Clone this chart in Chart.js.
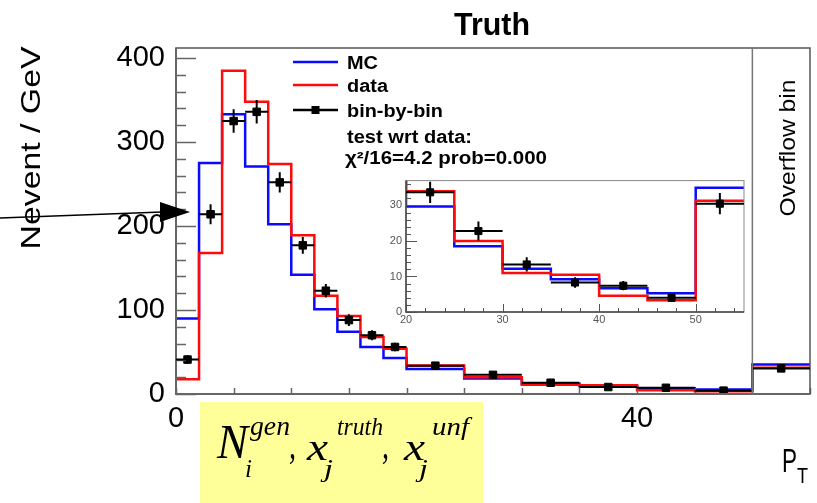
<!DOCTYPE html>
<html>
<head>
<meta charset="utf-8">
<script src="https://cdn.jsdelivr.net/npm/chart.js@4.4.1/dist/chart.umd.min.js"></script>
<style>
  html, body { margin: 0; padding: 0; background: #fff; }
  #wrap { position: relative; width: 817px; height: 503px; overflow: hidden; }
  #main { position: absolute; left: 0; top: 0; }
  #inset { position: absolute; left: 380px; top: 170px; }
</style>
</head>
<body>
<div id="wrap">
  <canvas id="main" width="817" height="503"></canvas>
  <canvas id="inset" width="370" height="160"></canvas>
</div>
<script>
// bin edges in GeV: 2 GeV bins up to 20, 5 GeV bins up to 50, last bin (50-55) is the overflow
const binEdges   = [0, 2, 4, 6, 8, 10, 12, 14, 16, 18, 20, 25, 30, 35, 40, 45, 50, 55];
const mcValues   = [90, 275, 333, 271, 202, 142, 101, 74, 56, 43, 29.7, 18.5, 12.2, 9.2, 6.7, 5.3, 35];
const dataValues = [17.5, 168, 385, 348, 274, 189, 117, 93, 68, 54, 34, 20, 11, 10.5, 4.6, 3.3, 31.3];
const unfValues  = [41, 214, 325, 336, 252, 177, 123, 88, 70, 56, 33.7, 22.8, 13.4, 8.3, 7.4, 4.0, 30.5];
const unfErrors  = [5, 12, 14, 14, 12, 10, 8, 7, 6, 5, 3, 2.7, 2, 1.5, 1.3, 1.1, 3];

const mainXTicks  = [0, 20, 40];
const mainYTicks  = [0, 100, 200, 300, 400];
const insetXTicks = [20, 30, 40, 50];
const insetYTicks = [0, 10, 20, 30];

const BLUE = '#0a0aff';
const RED = '#ff0a0a';
const SANS = '"Liberation Sans", Arial, sans-serif';
const SERIF = '"Liberation Serif", "Times New Roman", serif';

// histogram outline: each value is held until the next edge
function stepPoints(values) {
  const pts = values.map((v, i) => ({ x: binEdges[i], y: v }));
  pts.push({ x: binEdges[binEdges.length - 1], y: values[values.length - 1] });
  return pts;
}
const binCenters = binEdges.slice(0, -1).map((e, i) => (e + binEdges[i + 1]) / 2);
const unfPoints = unfValues.map((v, i) => ({ x: binCenters[i], y: v }));

// draw text squeezed/stretched to a target width
function fitText(ctx, text, x, y, font, width, align) {
  ctx.save();
  ctx.font = font;
  ctx.textBaseline = 'alphabetic';
  ctx.textAlign = 'left';
  const w = ctx.measureText(text).width;
  const s = width ? width / w : 1;
  ctx.translate(x, y);
  ctx.scale(s, 1);
  ctx.fillText(text, align === 'center' ? -w / 2 : 0, 0);
  ctx.restore();
}

function rotText(ctx, text, x, y, font, width) {
  ctx.save();
  ctx.translate(x, y);
  ctx.rotate(-Math.PI / 2);
  fitText(ctx, text, 0, 0, font, width, 'center');
  ctx.restore();
}

// x and y error bars of the unfolded points
const errorBars = {
  id: 'errorBars',
  afterDatasetsDraw(chart) {
    const { ctx, chartArea: a, scales: { x, y } } = chart;
    ctx.save();
    ctx.beginPath();
    ctx.rect(a.left, a.top, a.right - a.left, a.bottom - a.top);
    ctx.clip();
    ctx.strokeStyle = '#000';
    ctx.lineWidth = 2;
    ctx.beginPath();
    unfValues.forEach((v, i) => {
      const yc = y.getPixelForValue(v);
      const xc = x.getPixelForValue(binCenters[i]);
      ctx.moveTo(x.getPixelForValue(binEdges[i]), yc);
      ctx.lineTo(x.getPixelForValue(binEdges[i + 1]), yc);
      ctx.moveTo(xc, y.getPixelForValue(v - unfErrors[i]));
      ctx.lineTo(xc, y.getPixelForValue(v + unfErrors[i]));
    });
    ctx.stroke();
    ctx.restore();
  }
};

// ROOT style frame with inward tick marks
const rootFrame = {
  id: 'rootFrame',
  afterDatasetsDraw(chart, args, o) {
    const { ctx, chartArea: a, scales: { x, y } } = chart;
    const isMajor = (v, step) => Math.abs(v / step - Math.round(v / step)) < 1e-6;
    ctx.save();
    ctx.strokeStyle = o.tickColor;
    ctx.lineWidth = o.tickWidth;
    ctx.beginPath();
    for (let v = y.min; v <= y.max + 1e-9; v += o.yMinor) {
      const p = Math.round(y.getPixelForValue(v)) + 0.5;
      ctx.moveTo(a.left, p);
      ctx.lineTo(a.left + (isMajor(v, o.yMajor) ? o.yMajorLen : o.yMinorLen), p);
    }
    for (let v = x.min; v <= x.max + 1e-9; v += o.xMinor) {
      const p = Math.round(x.getPixelForValue(v)) + 0.5;
      ctx.moveTo(p, a.bottom);
      ctx.lineTo(p, a.bottom - (isMajor(v, o.xMajor) ? o.xMajorLen : o.xMinorLen));
    }
    ctx.stroke();
    ctx.strokeStyle = o.frameColor;
    ctx.lineWidth = o.frameWidth;
    ctx.strokeRect(a.left, a.top, a.right - a.left, a.bottom - a.top);
    ctx.strokeStyle = o.axisColor;
    ctx.lineWidth = o.axisWidth;
    ctx.beginPath();
    ctx.moveTo(a.left, a.top);
    ctx.lineTo(a.left, a.bottom);
    ctx.lineTo(a.right, a.bottom);
    ctx.stroke();
    ctx.restore();
  }
};

// texts, legend, overflow marker, arrow and the yellow label box
const decorations = {
  id: 'decorations',
  afterDraw(chart) {
    const { ctx, chartArea: a, scales: { x } } = chart;
    ctx.save();
    ctx.fillStyle = '#000';

    // overflow separator
    const xo = x.getPixelForValue(binEdges[binEdges.length - 2]);
    ctx.strokeStyle = '#777';
    ctx.lineWidth = 1.5;
    ctx.beginPath();
    ctx.moveTo(xo, a.top);
    ctx.lineTo(xo, a.bottom);
    ctx.stroke();
    rotText(ctx, 'Overflow bin', 795, 148, '22px ' + SANS, 137);

    // title and axis titles
    fitText(ctx, 'Truth', 492, 35, 'bold 31px ' + SANS, 76, 'center');
    rotText(ctx, 'Nevent / GeV', 40, 148, '28px ' + SANS, 203);
    fitText(ctx, 'P', 782, 472, '33px ' + SANS, 15);
    fitText(ctx, 'T', 797, 483, '22px ' + SANS, 11);

    // legend
    const lx0 = 293, lx1 = 338, tx = 347;
    const rows = [
      { label: 'MC', color: BLUE, y: 62, w: 31 },
      { label: 'data', color: RED, y: 85, w: 41 },
      { label: 'bin-by-bin', color: '#000', y: 110, w: 96, marker: true }
    ];
    rows.forEach(r => {
      ctx.strokeStyle = r.color;
      ctx.lineWidth = 2.5;
      ctx.beginPath();
      ctx.moveTo(lx0, r.y);
      ctx.lineTo(lx1, r.y);
      ctx.stroke();
      if (r.marker) ctx.fillRect((lx0 + lx1) / 2 - 4, r.y - 4, 8, 8);
      fitText(ctx, r.label, tx, r.y + 6.5, 'bold 18px ' + SANS, r.w);
    });
    fitText(ctx, 'test wrt data:', tx, 143, 'bold 18px ' + SANS, 125);
    fitText(ctx, 'χ²/16=4.2 prob=0.000', 345, 164, 'bold 18px ' + SANS, 202);

    // arrow pointing at the axis
    ctx.strokeStyle = '#000';
    ctx.lineWidth = 1.5;
    ctx.beginPath();
    ctx.moveTo(0, 218);
    ctx.lineTo(162, 212);
    ctx.stroke();
    ctx.beginPath();
    ctx.moveTo(160, 202);
    ctx.lineTo(190, 212);
    ctx.lineTo(160, 222);
    ctx.closePath();
    ctx.fill();

    // yellow box with the symbols
    ctx.fillStyle = '#ffff99';
    ctx.fillRect(200, 402, 283, 101);
    ctx.fillStyle = '#000';
    fitText(ctx, 'N', 217, 458, 'italic 48px ' + SERIF, 31);
    fitText(ctx, 'gen', 250, 435, 'italic 27px ' + SERIF, 40);
    fitText(ctx, 'i', 245, 477, 'italic 26px ' + SERIF, 7);
    fitText(ctx, ',', 289, 458, 'italic 40px ' + SERIF, 7);
    fitText(ctx, 'x', 307, 460, 'italic 38px ' + SERIF, 21);
    fitText(ctx, 'truth', 337, 435, 'italic 26px ' + SERIF, 46);
    fitText(ctx, 'j', 324, 477, 'italic 26px ' + SERIF, 9);
    fitText(ctx, ',', 382, 458, 'italic 40px ' + SERIF, 7);
    fitText(ctx, 'x', 404, 460, 'italic 38px ' + SERIF, 21);
    fitText(ctx, 'unf', 432, 435, 'italic 26px ' + SERIF, 37);
    fitText(ctx, 'j', 419, 477, 'italic 26px ' + SERIF, 9);
    ctx.restore();
  }
};

function histDatasets(markerRadius) {
  return [
    {
      label: 'bin-by-bin', type: 'scatter', data: unfPoints, order: 0,
      pointStyle: 'rect', pointRadius: markerRadius, pointBorderWidth: 1,
      backgroundColor: '#000', borderColor: '#000', showLine: false, clip: 0
    },
    {
      label: 'data', data: stepPoints(dataValues), order: 1, stepped: true,
      borderColor: RED, borderWidth: 2.5, pointRadius: 0, fill: false, clip: 0
    },
    {
      label: 'MC', data: stepPoints(mcValues), order: 2, stepped: true,
      borderColor: BLUE, borderWidth: 2.5, pointRadius: 0, fill: false, clip: 0
    }
  ];
}

new Chart(document.getElementById('main'), {
  type: 'line',
  data: { datasets: histDatasets(5.3) },
  options: {
    responsive: false,
    animation: false,
    devicePixelRatio: 1,
    layout: { padding: { top: 48, right: 7, left: 0, bottom: 0 } },
    plugins: {
      legend: { display: false },
      tooltip: { enabled: false },
      rootFrame: {
        tickColor: '#666', tickWidth: 1.5,
        yMinor: 20, yMajor: 100, yMinorLen: 10, yMajorLen: 20,
        xMinor: 5, xMajor: 5, xMinorLen: 6, xMajorLen: 6,
        frameColor: '#555', frameWidth: 1.5, axisColor: '#666', axisWidth: 2
      }
    },
    scales: {
      x: {
        type: 'linear', min: 0, max: 55,
        afterFit: s => { s.height = 109; },
        afterBuildTicks: s => { s.ticks = mainXTicks.map(v => ({ value: v })); },
        grid: { display: false, drawTicks: false },
        border: { display: false },
        ticks: { padding: 8, maxRotation: 0, color: '#000', font: { family: SANS, size: 29 } }
      },
      y: {
        type: 'linear', min: 0, max: 412,
        afterFit: s => { s.width = 176; },
        afterBuildTicks: s => { s.ticks = mainYTicks.map(v => ({ value: v })); },
        grid: { display: false, drawTicks: false },
        border: { display: false },
        ticks: { padding: 11, color: '#000', font: { family: SANS, size: 29 } }
      }
    }
  },
  plugins: [rootFrame, errorBars, decorations]
});

new Chart(document.getElementById('inset'), {
  type: 'line',
  data: { datasets: histDatasets(5) },
  options: {
    responsive: false,
    animation: false,
    devicePixelRatio: 1,
    layout: { padding: { top: 7, right: 5, left: 0, bottom: 0 } },
    plugins: {
      legend: { display: false },
      tooltip: { enabled: false },
      rootFrame: {
        tickColor: '#555', tickWidth: 1,
        yMinor: 2, yMajor: 10, yMinorLen: 5, yMajorLen: 11,
        xMinor: 2, xMajor: 10, xMinorLen: 4, xMajorLen: 8,
        frameColor: '#888', frameWidth: 1, axisColor: '#444', axisWidth: 1.5
      }
    },
    scales: {
      x: {
        type: 'linear', min: 20, max: 55,
        afterFit: s => { s.height = 18; },
        afterBuildTicks: s => { s.ticks = insetXTicks.map(v => ({ value: v })); },
        grid: { display: false, drawTicks: false },
        border: { display: false },
        ticks: { padding: 1, maxRotation: 0, color: '#555', font: { family: SANS, size: 11 } }
      },
      y: {
        type: 'linear', min: 0, max: 37,
        afterFit: s => { s.width = 26; },
        afterBuildTicks: s => { s.ticks = insetYTicks.map(v => ({ value: v })); },
        grid: { display: false, drawTicks: false },
        border: { display: false },
        ticks: { padding: 4, color: '#555', font: { family: SANS, size: 11 } }
      }
    }
  },
  plugins: [rootFrame, errorBars]
});
</script>
</body>
</html>
